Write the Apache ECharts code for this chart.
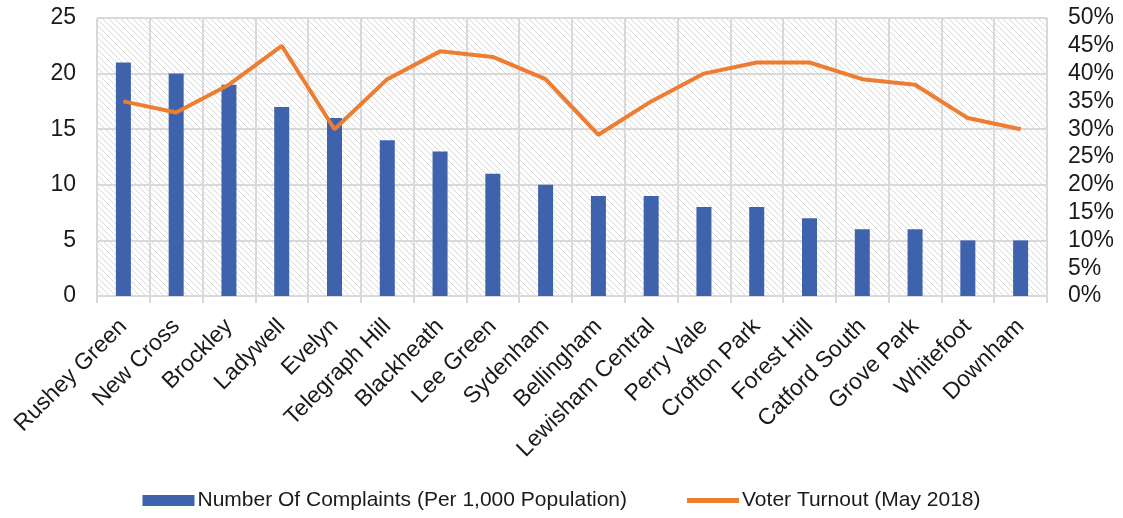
<!DOCTYPE html>
<html><head><meta charset="utf-8">
<script src="https://cdn.jsdelivr.net/npm/echarts@6/dist/echarts.min.js"></script>
<style>html,body{margin:0;padding:0;background:#fff}#c{width:1123px;height:518px}</style>
</head><body><div id="c"></div>
<script>
const categories = ["Rushey Green","New Cross","Brockley","Ladywell","Evelyn","Telegraph Hill","Blackheath","Lee Green","Sydenham","Bellingham","Lewisham Central","Perry Vale","Crofton Park","Forest Hill","Catford South","Grove Park","Whitefoot","Downham"];
const complaints = [21,20,19,17,16,14,13,11,10,9,9,8,8,7,6,6,5,5];
const turnout = [0.35,0.33,0.38,0.45,0.30,0.39,0.44,0.43,0.39,0.29,0.35,0.40,0.42,0.42,0.39,0.38,0.32,0.30];
const seriesNames = ["Number Of Complaints (Per 1,000 Population)","Voter Turnout (May 2018)"];

const pc = document.createElement('canvas');
pc.width = 6; pc.height = 6;
const g = pc.getContext('2d');
g.fillStyle = '#ffffff'; g.fillRect(0,0,6,6);
g.strokeStyle = '#d9d9d9'; g.lineWidth = 1;
g.beginPath();
g.moveTo(-1,-1); g.lineTo(7,7);
g.moveTo(-1,5); g.lineTo(1,7);
g.moveTo(5,-1); g.lineTo(7,1);
g.stroke();

const chart = echarts.init(document.getElementById('c'), null, {renderer:'canvas'});
const font = 'Liberation Sans, Arial, sans-serif';
chart.setOption({
  animation:false,
  textStyle:{fontFamily:font},
  grid:{left:97,right:76,top:18,bottom:222,show:true,borderWidth:0,backgroundColor:{image:pc,repeat:'repeat'}},
  legend:{bottom:2,left:'center',itemGap:60,itemWidth:52,itemHeight:11,
    textStyle:{fontSize:21,color:'#1a1a1a',fontFamily:font,padding:[0,0,0,-2]},
    data:[{name:seriesNames[0],icon:'rect'},{name:seriesNames[1],icon:'path://M0,0 L52,0 L52,5 L0,5 Z'}]},
  xAxis:{type:'category',data:categories,boundaryGap:true,
    axisLine:{lineStyle:{color:'#d9d9d9',width:2}},
    axisTick:{show:true,length:7,lineStyle:{color:'#d9d9d9',width:2}},
    splitLine:{show:true,lineStyle:{color:'#d9d9d9',width:2}},
    axisLabel:{rotate:45,fontSize:23,color:'#1a1a1a',margin:27,interval:0,fontFamily:font}},
  yAxis:[
    {type:'value',min:0,max:25,interval:5,
     axisLine:{show:false},axisTick:{show:false},
     splitLine:{lineStyle:{color:'#d9d9d9',width:2}},
     axisLabel:{fontSize:23,color:'#1a1a1a',margin:21,fontFamily:font}},
    {type:'value',min:0,max:0.5,interval:0.05,
     axisLine:{show:false},axisTick:{show:false},splitLine:{show:false},
     axisLabel:{fontSize:23,color:'#1a1a1a',margin:21,fontFamily:font,
       formatter:v=>Math.round(v*100)+'%'}}
  ],
  series:[
    {name:seriesNames[0],type:'bar',data:complaints,barWidth:15,itemStyle:{color:'#3F62AD'}},
    {name:seriesNames[1],type:'line',yAxisIndex:1,data:turnout,symbol:'none',
     lineStyle:{color:'#ED7D31',width:4},itemStyle:{color:'#ED7D31'}}
  ]
});
</script></body></html>
